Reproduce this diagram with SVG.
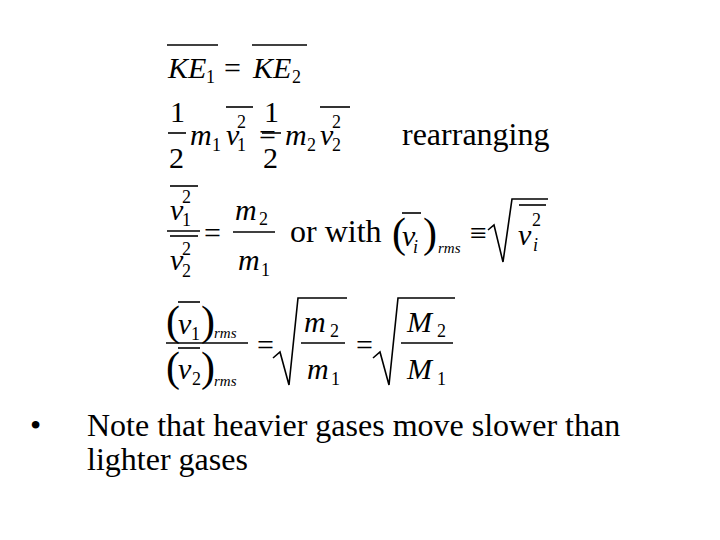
<svg xmlns="http://www.w3.org/2000/svg" width="720" height="540" viewBox="0 0 720 540" font-family="'Liberation Serif','Times New Roman','DejaVu Serif',serif">
<style>
text{font-family:'Liberation Serif','Times New Roman','DejaVu Serif',serif;fill:#000}
.i{font-style:italic;font-size:30px}
.u{font-size:30px}
.b{font-size:32px}
.s{font-size:18px}
.si{font-size:18px;font-style:italic}
.r{font-size:15px;font-style:italic}
.p{font-size:42px}
line,path{stroke:#000;stroke-width:1.6;fill:none}
</style>
<rect width="720" height="540" fill="#fff"/>
<g id="eq1">
<line x1="167" y1="45" x2="218" y2="45"/><line x1="252" y1="45" x2="307" y2="45"/>
<text class="i" x="168" y="78">KE</text><text class="s" x="206" y="83">1</text>
<text class="u" x="224" y="78">=</text>
<text class="i" x="253" y="78">KE</text><text class="s" x="292" y="83">2</text>
</g>
<g id="eq2">
<text class="u" x="170" y="122">1</text><line x1="168" y1="133" x2="186" y2="133"/><text class="u" x="169" y="168">2</text>
<text class="i" x="190" y="145">m</text><text class="s" x="212" y="151">1</text>
<line x1="226" y1="107" x2="253" y2="107"/><text class="i" x="226" y="145">v</text><text class="s" x="237" y="128">2</text><text class="s" x="237" y="151">1</text>
<text class="u" x="259" y="145">=</text>
<text class="u" x="264" y="122">1</text><line x1="262" y1="133" x2="281" y2="133"/><text class="u" x="263" y="168">2</text>
<text class="i" x="285" y="145">m</text><text class="s" x="307" y="151">2</text>
<line x1="320" y1="107" x2="350" y2="107"/><text class="i" x="320" y="145">v</text><text class="s" x="332" y="128">2</text><text class="s" x="332" y="151">2</text>
<text class="b" x="402" y="145">rearranging</text>
</g>
<g id="eq3">
<line x1="170" y1="186" x2="198" y2="186"/><text class="i" x="170" y="220">v</text><text class="s" x="182" y="203">2</text><text class="s" x="182" y="226">1</text>
<line x1="167" y1="231" x2="200" y2="231"/><line x1="170" y1="236" x2="198" y2="236"/>
<text class="i" x="170" y="270">v</text><text class="s" x="182" y="255">2</text><text class="s" x="182" y="277">2</text>
<text class="u" x="204" y="243">=</text>
<text class="i" x="235" y="220">m</text><text class="s" x="259" y="225">2</text>
<line x1="233" y1="232" x2="275" y2="232"/>
<text class="i" x="238" y="270">m</text><text class="s" x="261" y="276">1</text>
<text class="b" x="290" y="242">or with</text>
<text class="p" x="392" y="247">(</text><line x1="402" y1="213" x2="421" y2="213"/><text class="i" x="402" y="246">v</text><text class="si" x="413" y="253">i</text><text class="p" x="423" y="247">)</text><text class="r" x="438" y="253">rms</text>
<text class="u" x="470" y="243">≡</text>
<path d="M488,230 L494,225 L503,262 L512,199 L548,199"/>
<line x1="519" y1="205" x2="546" y2="205"/><text class="i" x="518" y="245">v</text><text class="s" x="532" y="226">2</text><text class="si" x="533" y="251">i</text>
</g>
<g id="eq4">
<text class="p" x="166" y="335">(</text><line x1="178" y1="302" x2="200" y2="302"/><text class="i" x="178" y="334">v</text><text class="s" x="191" y="340">1</text><text class="p" x="201" y="335">)</text><text class="r" x="214" y="338">rms</text>
<line x1="166" y1="343" x2="248" y2="343"/>
<text class="p" x="166" y="381">(</text><line x1="178" y1="348" x2="200" y2="348"/><text class="i" x="178" y="379">v</text><text class="s" x="192" y="385">2</text><text class="p" x="201" y="381">)</text><text class="r" x="214" y="386">rms</text>
<text class="u" x="257" y="355">=</text>
<path d="M273,358 L280,352 L289,385 L298,298 L347,298"/>
<text class="i" x="304" y="332">m</text><text class="s" x="330" y="337">2</text>
<line x1="301" y1="343" x2="345" y2="343"/>
<text class="i" x="307" y="379">m</text><text class="s" x="331" y="385">1</text>
<text class="u" x="356" y="355">=</text>
<path d="M373,358 L380,352 L389,385 L398,298 L455,298"/>
<text class="i" x="407" y="332">M</text><text class="s" x="437" y="337">2</text>
<line x1="401" y1="343" x2="453" y2="343"/>
<text class="i" x="407" y="379">M</text><text class="s" x="437" y="385">1</text>
</g>
<g id="note">
<text class="b" x="30" y="436">•</text>
<text class="b" x="87" y="436">Note that heavier gases move slower than</text>
<text class="b" x="87" y="470">lighter gases</text>
</g>
</svg>
